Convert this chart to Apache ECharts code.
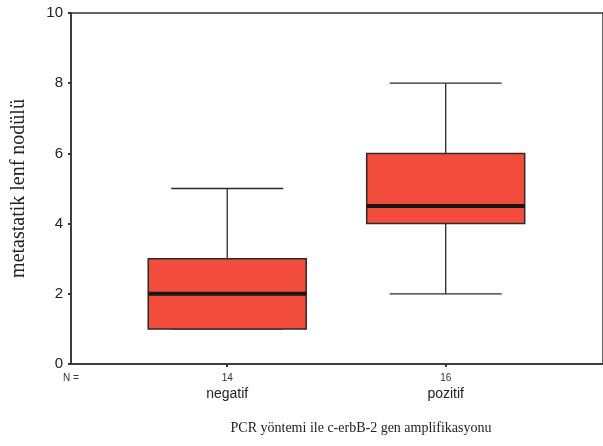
<!DOCTYPE html>
<html>
<head>
<meta charset="utf-8">
<script src="https://cdn.jsdelivr.net/npm/echarts@6/dist/echarts.min.js"></script>
<style>
  html, body { margin: 0; padding: 0; background: #fff; }
  #chart { width: 603px; height: 446px; }
</style>
</head>
<body>
<div id="chart"></div>
<script>
// groups on the x axis and their case counts
const categories = ['negatif', 'pozitif']
const counts = [14, 16]
// [min, q1, median, q3, max]
const boxStats = [
  [1, 1, 2, 3, 5],
  [2, 4, 4.5, 6, 8]
]
const yTicks = [0, 2, 4, 6, 8, 10]

const chart = echarts.init(document.getElementById('chart'))

const BOX_W = 158
const CAP_W = 112

const renderBox = (params, api) => {
  const x = api.value(0)
  const lo = api.coord([x, api.value(1)])
  const q1 = api.coord([x, api.value(2)])
  const med = api.coord([x, api.value(3)])
  const q3 = api.coord([x, api.value(4)])
  const hi = api.coord([x, api.value(5)])
  const cx = q1[0]
  const lineStyle = { stroke: '#2b2b2b', lineWidth: 1.3 }
  return {
    type: 'group',
    children: [
      { type: 'line', shape: { x1: cx, y1: hi[1], x2: cx, y2: q3[1] }, style: lineStyle },
      { type: 'line', shape: { x1: cx, y1: q1[1], x2: cx, y2: lo[1] }, style: lineStyle },
      { type: 'line', shape: { x1: cx - CAP_W / 2, y1: hi[1], x2: cx + CAP_W / 2, y2: hi[1] }, style: lineStyle },
      { type: 'line', shape: { x1: cx - CAP_W / 2, y1: lo[1], x2: cx + CAP_W / 2, y2: lo[1] }, style: lineStyle },
      {
        type: 'rect',
        shape: { x: cx - BOX_W / 2, y: q3[1], width: BOX_W, height: q1[1] - q3[1] },
        style: { fill: '#f24c3c', stroke: '#2f2a2a', lineWidth: 1.5 }
      },
      { type: 'line', shape: { x1: cx - BOX_W / 2, y1: med[1], x2: cx + BOX_W / 2, y2: med[1] }, style: { stroke: '#1a1414', lineWidth: 4 } }
    ]
  }
}

const xMin = -0.715
const option = {
  backgroundColor: '#ffffff',
  animation: false,
  grid: {
    left: 71,
    top: 13,
    width: 540,
    bottom: 82,
    show: true,
    borderColor: '#333',
    borderWidth: 1.5,
    backgroundColor: 'transparent'
  },
  xAxis: {
    type: 'value',
    min: xMin,
    max: 1.72,
    splitLine: { show: false },
    axisLine: { show: true, onZero: false, lineStyle: { color: '#333', width: 1.5 } },
    axisTick: { show: true, customValues: [0, 1], length: 3, lineStyle: { color: '#333', width: 2 } },
    axisLabel: {
      customValues: [xMin, 0, 1],
      margin: 8,
      showMinLabel: true,
      formatter: v => {
        if (v < 0) return '{n|N =}\n{c| }'
        const i = Math.round(v)
        return '{n|' + counts[i] + '}\n{c|' + categories[i] + '}'
      },
      rich: {
        n: { fontFamily: 'Liberation Sans', fontSize: 10, color: '#333', lineHeight: 13 },
        c: { fontFamily: 'Liberation Sans', fontSize: 14, color: '#222', lineHeight: 18 }
      }
    },
    name: 'PCR yöntemi ile c-erbB-2 gen amplifikasyonu',
    nameLocation: 'middle',
    nameGap: 57,
    nameTextStyle: { fontFamily: 'Liberation Serif', fontSize: 14, color: '#222', padding: [0, 0, 0, 48] }
  },
  yAxis: {
    type: 'value',
    min: yTicks[0],
    max: yTicks[yTicks.length - 1],
    interval: 2,
    splitLine: { show: false },
    axisLine: { show: true, onZero: false, lineStyle: { color: '#333', width: 1.5 } },
    axisTick: { show: true, length: 3, lineStyle: { color: '#333', width: 2 } },
    axisLabel: { fontFamily: 'Liberation Sans', fontSize: 15, color: '#222', margin: 8 },
    name: 'metastatik lenf nodülü',
    nameLocation: 'middle',
    nameGap: 42,
    nameTextStyle: { fontFamily: 'Liberation Serif', fontSize: 20, color: '#222' }
  },
  series: [
    {
      type: 'custom',
      renderItem: renderBox,
      encode: { x: 0, y: [1, 2, 3, 4, 5] },
      data: boxStats.map((s, i) => [i, ...s])
    }
  ]
}

chart.setOption(option)
</script>
</body>
</html>
